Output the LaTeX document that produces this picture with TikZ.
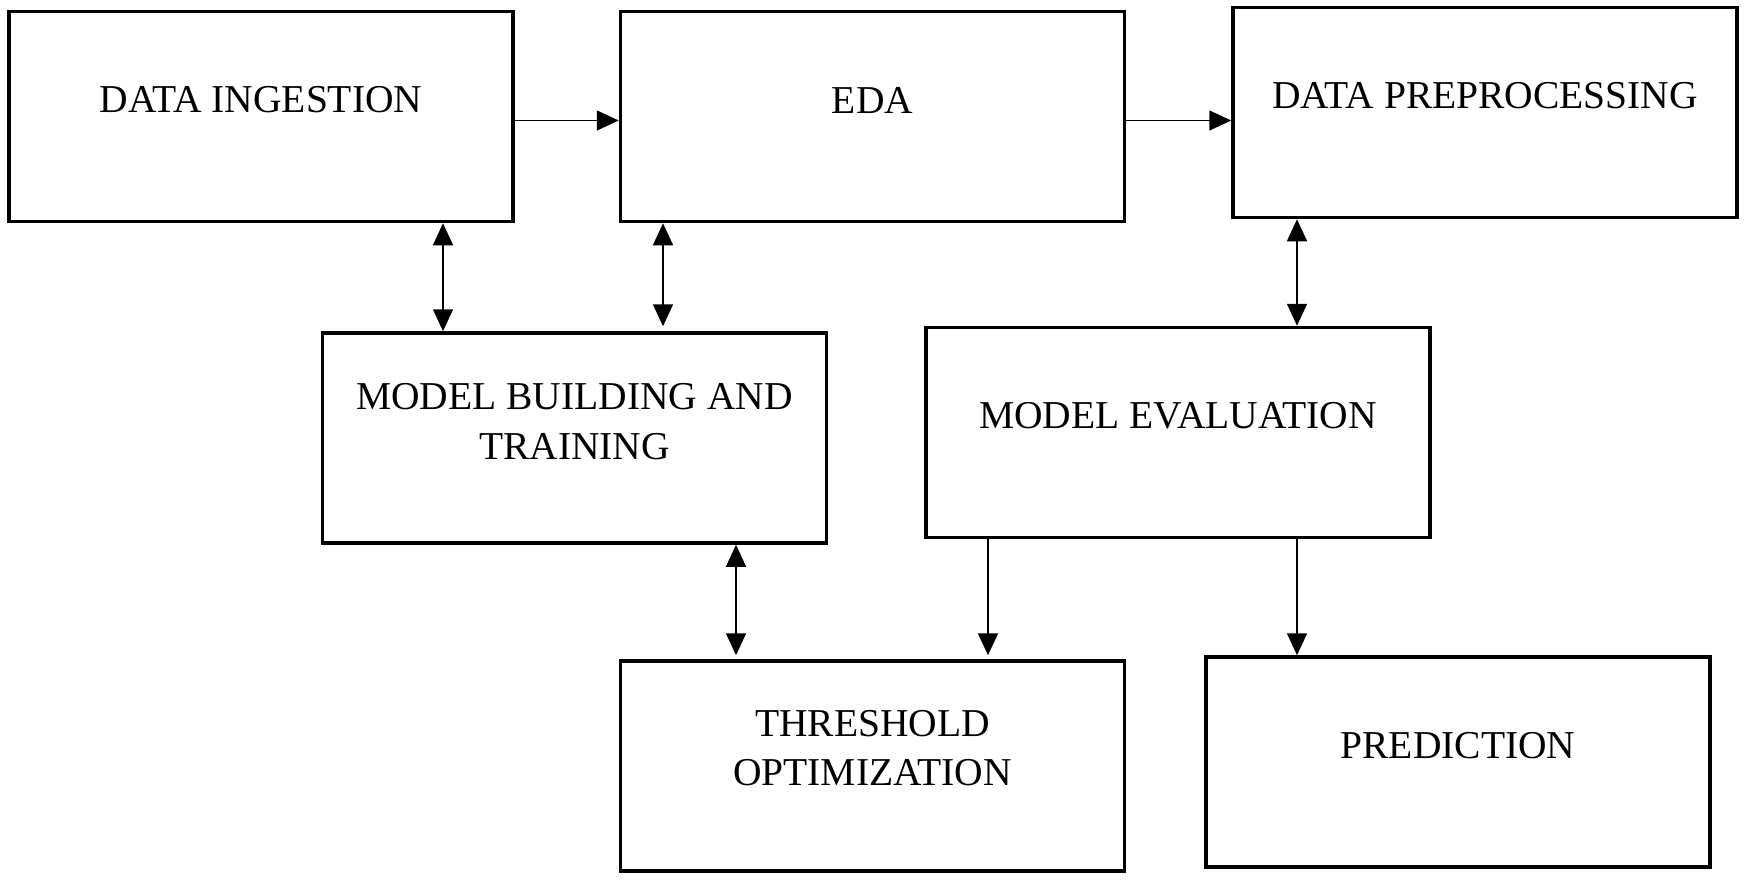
\documentclass[tikz,border=0pt]{standalone}
\usepackage{fontspec}
\setmainfont{Liberation Serif}
\usetikzlibrary{arrows.meta,calc}
\begin{document}
\begin{tikzpicture}[x=1pt,y=-1pt,
  box/.style={draw=black,line width=3.5pt,rectangle,inner sep=0pt,minimum width=504pt,minimum height=210pt},
  lbl/.style={align=center,inner sep=0pt,font=\fontsize{39.5}{49.5}\selectfont},
  onearrow/.style={line width=1.6pt,-{Triangle[length=22pt,width=20pt]}},
  twoarrow/.style={line width=1.6pt,{Triangle[length=22pt,width=20pt]}-{Triangle[length=22pt,width=20pt]}}
]
\useasboundingbox (0,0) rectangle (1746,879);
\fill[white] (0,0) rectangle (1746,879);

\node[box] (di) at (261,116.5) {};
\node[box] (eda) at (872.5,116.5) {};
\node[box] (dp) at (1485,112.5) {};
\node[box] (mb) at (574.5,438) {};
\node[box] (me) at (1178,432.5) {};
\node[box] (to) at (872.5,766) {};
\node[box] (pr) at (1458,762) {};

\node[lbl] (tdi) at ([yshift=16.5pt]di.center) {DATA INGESTION};
\node[lbl] (teda) at ([yshift=16.5pt]eda.center) {EDA};
\node[lbl] (tdp) at ([yshift=16.5pt]dp.center) {DATA PREPROCESSING};
\node[lbl] (tmb) at ([yshift=16.5pt]mb.center) {MODEL BUILDING AND\\TRAINING};
\node[lbl] (tme) at ([yshift=16.5pt]me.center) {MODEL EVALUATION};
\node[lbl] (tto) at ([yshift=18pt]to.center) {THRESHOLD\\OPTIMIZATION};
\node[lbl] (tpr) at ([yshift=16.5pt]pr.center) {PREDICTION};

% horizontal arrows
\draw[onearrow] ([yshift=-4pt]di.east) -- ([yshift=-4pt]di.east -| eda.west);
\draw[onearrow] ([yshift=-4pt]eda.east) -- ([yshift=-4pt]eda.east -| dp.west);

% vertical double arrows
\draw[twoarrow] ([xshift=182pt]di.south) -- ([xshift=182pt]di.south |- mb.north);
\draw[twoarrow,shorten >=5pt] ([xshift=-209.5pt]eda.south) -- ([xshift=-209.5pt]eda.south |- mb.north);
\draw[twoarrow] ([xshift=-188pt]dp.south) -- ([xshift=-188pt]dp.south |- me.north);
\draw[twoarrow,shorten >=4pt] ([xshift=161.5pt]mb.south) -- ([xshift=161.5pt]mb.south |- to.north);

% downward arrows
\draw[onearrow,shorten >=4pt] ([xshift=-190pt]me.south) -- ([xshift=-190pt]me.south |- to.north);
\draw[onearrow] ([xshift=119pt]me.south) -- ([xshift=119pt]me.south |- pr.north);
\end{tikzpicture}
\end{document}
